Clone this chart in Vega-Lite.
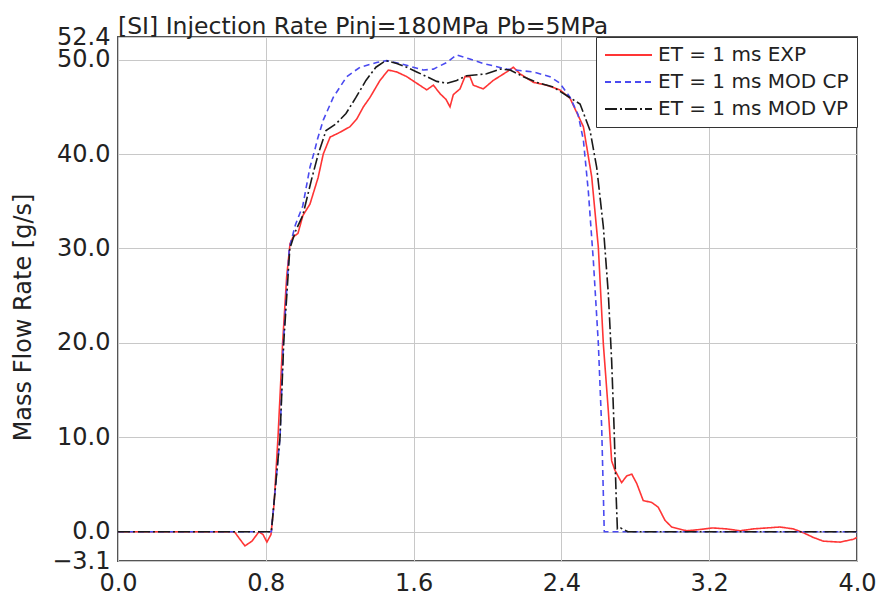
{
  "$schema": "https://vega.github.io/schema/vega-lite/v6.json",
  "width": 739,
  "height": 524,
  "autosize": {"type": "none"},
  "padding": {"left": 118, "top": 37, "right": 21, "bottom": 40},
  "background": "white",
  "title": {
    "text": "[SI] Injection Rate Pinj=180MPa Pb=5MPa",
    "anchor": "start",
    "frame": "group",
    "baseline": "alphabetic",
    "offset": -32,
    "font": "DejaVu Sans",
    "fontSize": 23.5,
    "fontWeight": "normal",
    "color": "#222"
  },
  "config": {
    "view": {"stroke": "#555", "strokeWidth": 2},
    "axis": {
      "labelFont": "DejaVu Sans",
      "labelFontSize": 24,
      "labelColor": "#222",
      "titleFont": "DejaVu Sans",
      "titleFontSize": 24,
      "titleFontWeight": "normal",
      "titleColor": "#222",
      "gridColor": "#c8c8c8",
      "gridWidth": 1,
      "gridOpacity": 1,
      "domain": false,
      "ticks": false,
      "labelOverlap": false,
      "labelFlush": false,
      "labelBound": false
    },
    "legend": {
      "labelFont": "DejaVu Sans",
      "labelFontSize": 20,
      "labelColor": "#222",
      "labelLimit": 400
    }
  },
  "datasets": {
    "rate": [
      {"t": 0.0, "v": 0, "s": "ET = 1 ms EXP"},
      {"t": 0.3, "v": 0, "s": "ET = 1 ms EXP"},
      {"t": 0.63, "v": 0, "s": "ET = 1 ms EXP"},
      {"t": 0.66, "v": -0.8, "s": "ET = 1 ms EXP"},
      {"t": 0.687, "v": -1.5, "s": "ET = 1 ms EXP"},
      {"t": 0.725, "v": -1.0, "s": "ET = 1 ms EXP"},
      {"t": 0.763, "v": 0, "s": "ET = 1 ms EXP"},
      {"t": 0.785, "v": -0.3, "s": "ET = 1 ms EXP"},
      {"t": 0.806, "v": -1.1, "s": "ET = 1 ms EXP"},
      {"t": 0.828, "v": -0.3, "s": "ET = 1 ms EXP"},
      {"t": 0.845, "v": 3, "s": "ET = 1 ms EXP"},
      {"t": 0.866, "v": 10, "s": "ET = 1 ms EXP"},
      {"t": 0.891, "v": 20, "s": "ET = 1 ms EXP"},
      {"t": 0.913, "v": 27, "s": "ET = 1 ms EXP"},
      {"t": 0.931, "v": 30.5, "s": "ET = 1 ms EXP"},
      {"t": 0.947, "v": 31.2, "s": "ET = 1 ms EXP"},
      {"t": 0.974, "v": 31.6, "s": "ET = 1 ms EXP"},
      {"t": 1.001, "v": 33.5, "s": "ET = 1 ms EXP"},
      {"t": 1.039, "v": 34.7, "s": "ET = 1 ms EXP"},
      {"t": 1.083, "v": 37.5, "s": "ET = 1 ms EXP"},
      {"t": 1.111, "v": 40.0, "s": "ET = 1 ms EXP"},
      {"t": 1.148, "v": 41.8, "s": "ET = 1 ms EXP"},
      {"t": 1.191, "v": 42.2, "s": "ET = 1 ms EXP"},
      {"t": 1.256, "v": 42.9, "s": "ET = 1 ms EXP"},
      {"t": 1.292, "v": 43.7, "s": "ET = 1 ms EXP"},
      {"t": 1.328, "v": 45.0, "s": "ET = 1 ms EXP"},
      {"t": 1.364, "v": 46.0, "s": "ET = 1 ms EXP"},
      {"t": 1.418, "v": 47.8, "s": "ET = 1 ms EXP"},
      {"t": 1.463, "v": 48.9, "s": "ET = 1 ms EXP"},
      {"t": 1.509, "v": 48.7, "s": "ET = 1 ms EXP"},
      {"t": 1.563, "v": 48.2, "s": "ET = 1 ms EXP"},
      {"t": 1.617, "v": 47.5, "s": "ET = 1 ms EXP"},
      {"t": 1.671, "v": 46.8, "s": "ET = 1 ms EXP"},
      {"t": 1.707, "v": 47.3, "s": "ET = 1 ms EXP"},
      {"t": 1.743, "v": 46.4, "s": "ET = 1 ms EXP"},
      {"t": 1.775, "v": 45.8, "s": "ET = 1 ms EXP"},
      {"t": 1.797, "v": 45.0, "s": "ET = 1 ms EXP"},
      {"t": 1.815, "v": 46.3, "s": "ET = 1 ms EXP"},
      {"t": 1.851, "v": 46.9, "s": "ET = 1 ms EXP"},
      {"t": 1.878, "v": 48.2, "s": "ET = 1 ms EXP"},
      {"t": 1.905, "v": 48.2, "s": "ET = 1 ms EXP"},
      {"t": 1.923, "v": 47.3, "s": "ET = 1 ms EXP"},
      {"t": 1.977, "v": 46.9, "s": "ET = 1 ms EXP"},
      {"t": 2.031, "v": 47.8, "s": "ET = 1 ms EXP"},
      {"t": 2.104, "v": 48.7, "s": "ET = 1 ms EXP"},
      {"t": 2.14, "v": 49.2, "s": "ET = 1 ms EXP"},
      {"t": 2.176, "v": 48.5, "s": "ET = 1 ms EXP"},
      {"t": 2.248, "v": 47.6, "s": "ET = 1 ms EXP"},
      {"t": 2.32, "v": 47.3, "s": "ET = 1 ms EXP"},
      {"t": 2.392, "v": 46.8, "s": "ET = 1 ms EXP"},
      {"t": 2.447, "v": 45.9, "s": "ET = 1 ms EXP"},
      {"t": 2.519, "v": 42.9, "s": "ET = 1 ms EXP"},
      {"t": 2.564, "v": 37.6, "s": "ET = 1 ms EXP"},
      {"t": 2.6, "v": 30.1, "s": "ET = 1 ms EXP"},
      {"t": 2.627, "v": 19.9, "s": "ET = 1 ms EXP"},
      {"t": 2.654, "v": 12.8, "s": "ET = 1 ms EXP"},
      {"t": 2.672, "v": 7.5, "s": "ET = 1 ms EXP"},
      {"t": 2.69, "v": 6.5, "s": "ET = 1 ms EXP"},
      {"t": 2.726, "v": 5.2, "s": "ET = 1 ms EXP"},
      {"t": 2.753, "v": 5.9, "s": "ET = 1 ms EXP"},
      {"t": 2.781, "v": 6.1, "s": "ET = 1 ms EXP"},
      {"t": 2.808, "v": 5.1, "s": "ET = 1 ms EXP"},
      {"t": 2.843, "v": 3.3, "s": "ET = 1 ms EXP"},
      {"t": 2.889, "v": 3.1, "s": "ET = 1 ms EXP"},
      {"t": 2.924, "v": 2.6, "s": "ET = 1 ms EXP"},
      {"t": 2.961, "v": 1.2, "s": "ET = 1 ms EXP"},
      {"t": 2.997, "v": 0.5, "s": "ET = 1 ms EXP"},
      {"t": 3.078, "v": 0.1, "s": "ET = 1 ms EXP"},
      {"t": 3.132, "v": 0.2, "s": "ET = 1 ms EXP"},
      {"t": 3.219, "v": 0.4, "s": "ET = 1 ms EXP"},
      {"t": 3.295, "v": 0.3, "s": "ET = 1 ms EXP"},
      {"t": 3.367, "v": 0.1, "s": "ET = 1 ms EXP"},
      {"t": 3.439, "v": 0.3, "s": "ET = 1 ms EXP"},
      {"t": 3.511, "v": 0.4, "s": "ET = 1 ms EXP"},
      {"t": 3.583, "v": 0.5, "s": "ET = 1 ms EXP"},
      {"t": 3.655, "v": 0.3, "s": "ET = 1 ms EXP"},
      {"t": 3.709, "v": -0.1, "s": "ET = 1 ms EXP"},
      {"t": 3.763, "v": -0.6, "s": "ET = 1 ms EXP"},
      {"t": 3.818, "v": -1.0, "s": "ET = 1 ms EXP"},
      {"t": 3.908, "v": -1.1, "s": "ET = 1 ms EXP"},
      {"t": 3.98, "v": -0.8, "s": "ET = 1 ms EXP"},
      {"t": 4.0, "v": -0.6, "s": "ET = 1 ms EXP"},

      {"t": 0.0, "v": 0, "s": "ET = 1 ms MOD CP"},
      {"t": 0.83, "v": 0, "s": "ET = 1 ms MOD CP"},
      {"t": 0.877, "v": 10, "s": "ET = 1 ms MOD CP"},
      {"t": 0.895, "v": 20, "s": "ET = 1 ms MOD CP"},
      {"t": 0.927, "v": 30, "s": "ET = 1 ms MOD CP"},
      {"t": 0.96, "v": 32.5, "s": "ET = 1 ms MOD CP"},
      {"t": 1.0, "v": 34.5, "s": "ET = 1 ms MOD CP"},
      {"t": 1.039, "v": 38.6, "s": "ET = 1 ms MOD CP"},
      {"t": 1.066, "v": 40.5, "s": "ET = 1 ms MOD CP"},
      {"t": 1.08, "v": 41.6, "s": "ET = 1 ms MOD CP"},
      {"t": 1.111, "v": 43.6, "s": "ET = 1 ms MOD CP"},
      {"t": 1.165, "v": 46.0, "s": "ET = 1 ms MOD CP"},
      {"t": 1.238, "v": 48.2, "s": "ET = 1 ms MOD CP"},
      {"t": 1.31, "v": 49.2, "s": "ET = 1 ms MOD CP"},
      {"t": 1.4, "v": 49.7, "s": "ET = 1 ms MOD CP"},
      {"t": 1.454, "v": 49.9, "s": "ET = 1 ms MOD CP"},
      {"t": 1.526, "v": 49.6, "s": "ET = 1 ms MOD CP"},
      {"t": 1.598, "v": 49.2, "s": "ET = 1 ms MOD CP"},
      {"t": 1.653, "v": 48.9, "s": "ET = 1 ms MOD CP"},
      {"t": 1.707, "v": 49.0, "s": "ET = 1 ms MOD CP"},
      {"t": 1.779, "v": 49.7, "s": "ET = 1 ms MOD CP"},
      {"t": 1.833, "v": 50.5, "s": "ET = 1 ms MOD CP"},
      {"t": 1.9, "v": 50.1, "s": "ET = 1 ms MOD CP"},
      {"t": 1.977, "v": 49.6, "s": "ET = 1 ms MOD CP"},
      {"t": 2.104, "v": 49.0, "s": "ET = 1 ms MOD CP"},
      {"t": 2.248, "v": 48.7, "s": "ET = 1 ms MOD CP"},
      {"t": 2.338, "v": 48.2, "s": "ET = 1 ms MOD CP"},
      {"t": 2.392, "v": 47.5, "s": "ET = 1 ms MOD CP"},
      {"t": 2.447, "v": 46.0, "s": "ET = 1 ms MOD CP"},
      {"t": 2.49, "v": 44.2, "s": "ET = 1 ms MOD CP"},
      {"t": 2.519, "v": 41.5, "s": "ET = 1 ms MOD CP"},
      {"t": 2.546, "v": 36, "s": "ET = 1 ms MOD CP"},
      {"t": 2.573, "v": 28.7, "s": "ET = 1 ms MOD CP"},
      {"t": 2.6, "v": 19.9, "s": "ET = 1 ms MOD CP"},
      {"t": 2.618, "v": 11.1, "s": "ET = 1 ms MOD CP"},
      {"t": 2.627, "v": 4.0, "s": "ET = 1 ms MOD CP"},
      {"t": 2.632, "v": 0, "s": "ET = 1 ms MOD CP"},
      {"t": 2.65, "v": 0, "s": "ET = 1 ms MOD CP"},
      {"t": 4.0, "v": 0, "s": "ET = 1 ms MOD CP"},

      {"t": 0.0, "v": 0, "s": "ET = 1 ms MOD VP"},
      {"t": 0.83, "v": 0, "s": "ET = 1 ms MOD VP"},
      {"t": 0.877, "v": 10, "s": "ET = 1 ms MOD VP"},
      {"t": 0.897, "v": 20, "s": "ET = 1 ms MOD VP"},
      {"t": 0.93, "v": 30, "s": "ET = 1 ms MOD VP"},
      {"t": 0.96, "v": 31.8, "s": "ET = 1 ms MOD VP"},
      {"t": 1.0, "v": 33.5, "s": "ET = 1 ms MOD VP"},
      {"t": 1.05, "v": 37.5, "s": "ET = 1 ms MOD VP"},
      {"t": 1.084, "v": 40, "s": "ET = 1 ms MOD VP"},
      {"t": 1.126, "v": 42.5, "s": "ET = 1 ms MOD VP"},
      {"t": 1.18, "v": 43.2, "s": "ET = 1 ms MOD VP"},
      {"t": 1.234, "v": 44.3, "s": "ET = 1 ms MOD VP"},
      {"t": 1.288, "v": 46.0, "s": "ET = 1 ms MOD VP"},
      {"t": 1.342, "v": 47.8, "s": "ET = 1 ms MOD VP"},
      {"t": 1.396, "v": 49.2, "s": "ET = 1 ms MOD VP"},
      {"t": 1.45, "v": 49.9, "s": "ET = 1 ms MOD VP"},
      {"t": 1.509, "v": 49.6, "s": "ET = 1 ms MOD VP"},
      {"t": 1.563, "v": 49.2, "s": "ET = 1 ms MOD VP"},
      {"t": 1.617, "v": 48.7, "s": "ET = 1 ms MOD VP"},
      {"t": 1.671, "v": 48.2, "s": "ET = 1 ms MOD VP"},
      {"t": 1.725, "v": 47.7, "s": "ET = 1 ms MOD VP"},
      {"t": 1.779, "v": 47.5, "s": "ET = 1 ms MOD VP"},
      {"t": 1.833, "v": 47.8, "s": "ET = 1 ms MOD VP"},
      {"t": 1.887, "v": 48.3, "s": "ET = 1 ms MOD VP"},
      {"t": 1.995, "v": 48.5, "s": "ET = 1 ms MOD VP"},
      {"t": 2.068, "v": 49.0, "s": "ET = 1 ms MOD VP"},
      {"t": 2.122, "v": 48.9, "s": "ET = 1 ms MOD VP"},
      {"t": 2.194, "v": 48.2, "s": "ET = 1 ms MOD VP"},
      {"t": 2.266, "v": 47.6, "s": "ET = 1 ms MOD VP"},
      {"t": 2.356, "v": 47.1, "s": "ET = 1 ms MOD VP"},
      {"t": 2.428, "v": 46.2, "s": "ET = 1 ms MOD VP"},
      {"t": 2.501, "v": 45.3, "s": "ET = 1 ms MOD VP"},
      {"t": 2.555, "v": 42.5, "s": "ET = 1 ms MOD VP"},
      {"t": 2.591, "v": 38.6, "s": "ET = 1 ms MOD VP"},
      {"t": 2.627, "v": 32.3, "s": "ET = 1 ms MOD VP"},
      {"t": 2.654, "v": 25.2, "s": "ET = 1 ms MOD VP"},
      {"t": 2.672, "v": 18.1, "s": "ET = 1 ms MOD VP"},
      {"t": 2.685, "v": 11.1, "s": "ET = 1 ms MOD VP"},
      {"t": 2.696, "v": 4.0, "s": "ET = 1 ms MOD VP"},
      {"t": 2.703, "v": 0.3, "s": "ET = 1 ms MOD VP"},
      {"t": 2.72, "v": 0.4, "s": "ET = 1 ms MOD VP"},
      {"t": 2.76, "v": 0, "s": "ET = 1 ms MOD VP"},
      {"t": 4.0, "v": 0, "s": "ET = 1 ms MOD VP"}
    ]
  },
  "data": {"name": "rate"},
  "mark": {"type": "line", "strokeWidth": 1.6, "clip": true},
  "encoding": {
    "x": {
      "field": "t",
      "type": "quantitative",
      "scale": {"domain": [0, 4], "nice": false, "zero": false},
      "axis": {
        "values": [0, 0.8, 1.6, 2.4, 3.2, 4.0],
        "format": ".1f",
        "title": null,
        "labelPadding": 10
      }
    },
    "y": {
      "field": "v",
      "type": "quantitative",
      "scale": {"domain": [-3.1, 52.4], "nice": false, "zero": false},
      "axis": {
        "values": [-3.1, 0, 10, 20, 30, 40, 50, 52.4],
        "format": ".1f",
        "title": "Mass Flow Rate [g/s]",
        "labelPadding": 8,
        "titlePadding": 16,
        "titleY": 280
      }
    },
    "color": {
      "field": "s",
      "type": "nominal",
      "scale": {
        "domain": ["ET = 1 ms EXP", "ET = 1 ms MOD CP", "ET = 1 ms MOD VP"],
        "range": ["#ff3535", "#4a4af0", "#1a1a1a"]
      },
      "legend": {
        "title": null,
        "orient": "top-right",
        "offset": 0,
        "fillColor": "white",
        "strokeColor": "#333",
        "padding": 8,
        "symbolType": "stroke",
        "symbolSize": 2209,
        "symbolStrokeWidth": 2,
        "labelOffset": 5,
        "clipHeight": 20,
        "rowPadding": 7
      }
    },
    "strokeDash": {
      "field": "s",
      "type": "nominal",
      "scale": {
        "domain": ["ET = 1 ms EXP", "ET = 1 ms MOD CP", "ET = 1 ms MOD VP"],
        "range": [[1, 0], [6, 4], [12, 3, 2, 3]]
      },
      "legend": {
        "title": null,
        "orient": "top-right",
        "offset": 0,
        "fillColor": "white",
        "strokeColor": "#333",
        "padding": 8,
        "symbolType": "stroke",
        "symbolSize": 2209,
        "symbolStrokeWidth": 2,
        "labelOffset": 5,
        "clipHeight": 20,
        "rowPadding": 7
      }
    }
  }
}
